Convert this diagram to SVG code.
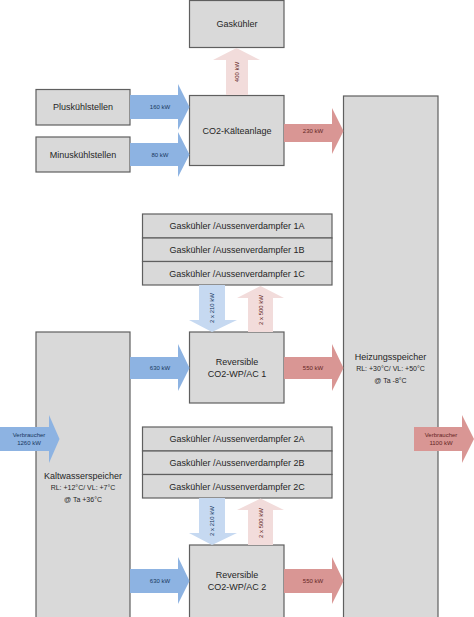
<svg xmlns="http://www.w3.org/2000/svg" width="474" height="617" viewBox="0 0 474 617">
<defs>
<style>
.box{fill:#d9d9d9;stroke:#5f5f5f;stroke-width:1.2}
.t{font-family:"Liberation Sans",Arial,sans-serif;font-size:9px;fill:#262626;text-anchor:middle;dominant-baseline:central}
.s{font-size:7px}
.lbl{font-family:"Liberation Sans",Arial,sans-serif;font-size:6px;text-anchor:middle;dominant-baseline:central}
.bl{fill:#17375e}
.rl{fill:#632523}
.blue{fill:#8db3e2}
.lblue{fill:#c6d9f1}
.red{fill:#d99694}
.pink{fill:#f2dcdb}
</style>
</defs>
<rect width="474" height="617" fill="#ffffff"/>

<g id="gaskuehler">
  <rect class="box" x="189.5" y="0.5" width="94.5" height="47"/>
  <text class="t" x="237" y="24">Gaskühler</text>
</g>
<g id="co2-kaelteanlage">
  <rect class="box" x="189.5" y="95.5" width="94.5" height="70"/>
  <text class="t" x="237" y="131">CO2-Kälteanlage</text>
</g>
<g id="pluskuehlstellen">
  <rect class="box" x="36" y="89.5" width="94" height="35.5"/>
  <text class="t" x="83" y="107">Pluskühlstellen</text>
</g>
<g id="minuskuehlstellen">
  <rect class="box" x="36" y="137" width="94" height="35"/>
  <text class="t" x="83" y="154.5">Minuskühlstellen</text>
</g>
<g id="heizungsspeicher">
  <rect class="box" x="343.5" y="96" width="94.5" height="530"/>
  <text class="t" x="390.5" y="357">Heizungsspeicher</text>
  <text class="t s" x="390.5" y="368.5">RL: +30°C/ VL: +50°C</text>
  <text class="t s" x="390.5" y="380">@ Ta -8°C</text>
</g>
<g id="gk1a">
  <rect class="box" x="142.5" y="214" width="189.5" height="24"/>
  <text class="t" x="237" y="226">Gaskühler /Aussenverdampfer 1A</text>
</g>
<g id="gk1b">
  <rect class="box" x="142.5" y="238" width="189.5" height="23.5"/>
  <text class="t" x="237" y="250">Gaskühler /Aussenverdampfer 1B</text>
</g>
<g id="gk1c">
  <rect class="box" x="142.5" y="261.5" width="189.5" height="23.5"/>
  <text class="t" x="237" y="273.5">Gaskühler /Aussenverdampfer 1C</text>
</g>
<g id="wp1">
  <rect class="box" x="189.5" y="332" width="94.5" height="71"/>
  <text class="t" x="237" y="362">Reversible</text>
  <text class="t" x="237" y="374">CO2-WP/AC 1</text>
</g>
<g id="kaltwasserspeicher">
  <rect class="box" x="36" y="332" width="94" height="295"/>
  <text class="t" x="83" y="476">Kaltwasserspeicher</text>
  <text class="t s" x="83" y="487.5">RL: +12°C/ VL: +7°C</text>
  <text class="t s" x="83" y="499">@ Ta +36°C</text>
</g>
<g id="gk2a">
  <rect class="box" x="142.5" y="427" width="189.5" height="24"/>
  <text class="t" x="237" y="439">Gaskühler /Aussenverdampfer 2A</text>
</g>
<g id="gk2b">
  <rect class="box" x="142.5" y="451" width="189.5" height="23.5"/>
  <text class="t" x="237" y="463">Gaskühler /Aussenverdampfer 2B</text>
</g>
<g id="gk2c">
  <rect class="box" x="142.5" y="474.5" width="189.5" height="23.5"/>
  <text class="t" x="237" y="486.5">Gaskühler /Aussenverdampfer 2C</text>
</g>
<g id="wp2">
  <rect class="box" x="189.5" y="545" width="94.5" height="80"/>
  <text class="t" x="237" y="575">Reversible</text>
  <text class="t" x="237" y="587">CO2-WP/AC 2</text>
</g>

<g id="connectors">
  <polygon class="blue" points="130,95 178,95 178,84 189.5,107 178,130 178,119 130,119"/>
  <text class="lbl bl" x="160" y="107">160 kW</text>
  <polygon class="blue" points="130,143 178,143 178,132 189.5,154.5 178,177 178,166 130,166"/>
  <text class="lbl bl" x="160" y="154.5">80 kW</text>
  <polygon class="pink" points="226,95 226,60 213,60 236.5,48 260,60 248,60 248,95"/>
  <text class="lbl rl" transform="translate(237,72) rotate(-90)">400 kW</text>
  <polygon class="red" points="284,124 332,124 332,108 343.5,131 332,154 332,142 284,142"/>
  <text class="lbl rl" x="313" y="131">230 kW</text>

  <polygon class="lblue" points="199,285 225,285 225,320 237,320 212,332 189,320 199,320"/>
  <text class="lbl bl" transform="translate(212,308) rotate(-90)">2 x 210 kW</text>
  <polygon class="pink" points="248,332 248,298 237,298 260.5,286 284,298 273,298 273,332"/>
  <text class="lbl rl" transform="translate(261,310) rotate(-90)">2 x 500 kW</text>
  <polygon class="blue" points="130,357 178,357 178,344 189.5,368 178,391 178,379 130,379"/>
  <text class="lbl bl" x="160" y="368">630 kW</text>
  <polygon class="red" points="284,357 332,357 332,344 343.5,368 332,391 332,379 284,379"/>
  <text class="lbl rl" x="313" y="368">550 kW</text>

  <polygon class="blue" points="0,427 49,427 49,415 59.5,439 49,463 49,451 0,451"/>
  <text class="lbl bl" x="29" y="435">Verbraucher</text>
  <text class="lbl bl" x="29" y="443">1260 kW</text>
  <polygon class="red" points="414,427 462,427 462,415 474,439 462,463 462,451 414,451"/>
  <text class="lbl rl" x="441" y="435">Verbraucher</text>
  <text class="lbl rl" x="441" y="443">1100 kW</text>

  <polygon class="lblue" points="199,498 225,498 225,533 237,533 212,545 189,533 199,533"/>
  <text class="lbl bl" transform="translate(212,521) rotate(-90)">2 x 210 kW</text>
  <polygon class="pink" points="248,545 248,510 237,510 260.5,498.5 284,510 273,510 273,545"/>
  <text class="lbl rl" transform="translate(261,523) rotate(-90)">2 x 500 kW</text>
  <polygon class="blue" points="130,569 178,569 178,557 189.5,581 178,604 178,593 130,593"/>
  <text class="lbl bl" x="160" y="581">630 kW</text>
  <polygon class="red" points="284,569 332,569 332,557 343.5,581 332,604 332,593 284,593"/>
  <text class="lbl rl" x="313" y="581">550 kW</text>
</g>
</svg>
